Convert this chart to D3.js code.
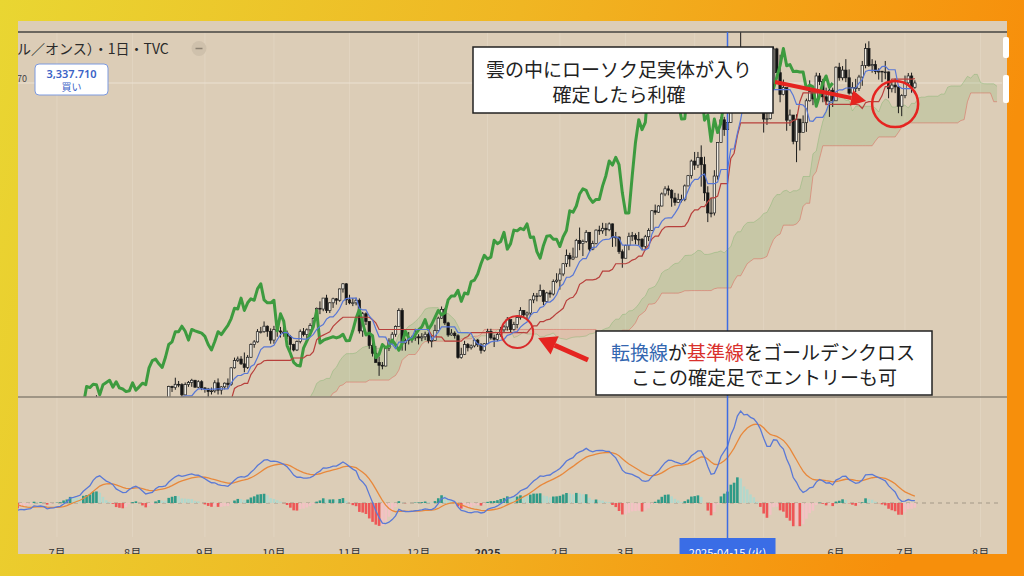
<!DOCTYPE html>
<html>
<head>
<meta charset="utf-8">
<script src="https://cdn.jsdelivr.net/npm/d3@7"></script>
<style>
  html, body { margin: 0; padding: 0; width: 1024px; height: 576px; overflow: hidden; }
  svg { display: block; font-family: "Noto Sans CJK JP", "Noto Sans", sans-serif; }
</style>
</head>
<body>
<svg id="chart" width="1024" height="576"></svg>
<script>
// ---- Daily gold bars (TVC), first session 2024-04-01 ----
const firstDay = "2024-04-01";
const lastCalendarDay = "2025-08-30";
const closedDays = ["2024-12-25", "2025-01-01", "2025-04-18"];

const closes = [
  // 2024-04
  2251,2280,2300,2290,2330, 2339,2352,2333,2373,2344, 2383,2383,2361,2379,2392, 2327,2322,2316,2332,2337, 2335,2286,
  // 2024-05
  2320,2303,2301, 2323,2314,2309,2346,2360, 2336,2358,2386,2377,2415, 2425,2421,2379,2329,2334, 2350,2361,2338,2342,2327,
  // 2024-06
  2350,2327,2355,2375,2294, 2311,2316,2324,2304,2333, 2319,2330,2328,2361,2322, 2334,2319,2298,2327,2326,
  // 2024-07
  2332,2330,2356,2356,2392, 2359,2364,2371,2415,2411, 2422,2469,2459,2445,2400, 2396,2409,2398,2365,2387, 2384,2410,2447,
  // 2024-08
  2446,2443, 2409,2390,2382,2427,2431, 2472,2465,2447,2456,2507, 2504,2513,2512,2484,2512, 2518,2524,2505,2520,2503,
  // 2024-09
  2500,2493,2495,2517,2497, 2506,2516,2512,2558,2578, 2582,2569,2559,2587,2622, 2629,2657,2657,2672,2658, 2634,
  // 2024-10
  2663,2659,2656,2653, 2644,2622,2607,2630,2657, 2649,2662,2674,2693,2721, 2719,2749,2715,2736,2747, 2743,2774,2788,2744,
  // 2024-11
  2736, 2736,2743,2659,2706,2685, 2619,2598,2573,2565,2563, 2612,2631,2650,2671,2715, 2626,2633,2637,2640,2643,
  // 2024-12
  2640,2643,2650,2632,2633, 2660,2694,2718,2681,2648, 2653,2646,2586,2595,2622, 2613,2618,2634,2621, 2606,2624,
  // 2025-01
  2658,2640, 2636,2649,2662,2670,2690, 2663,2677,2696,2715,2703, 2708,2744,2755,2755,2770, 2740,2763,2760,2794,2798,
  // 2025-02
  2815,2843,2866,2856,2861, 2907,2898,2904,2929,2883, 2898,2935,2933,2940,2936, 2952,2915,2916,2876,2858,
  // 2025-03
  2893,2918,2920,2910,2910, 2890,2917,2934,2988,2984, 3001,3034,3048,3044,3023, 3011,3019,3019,3056,3084, 3124,
  // 2025-04
  3113,3134,3114,3037, 2982,2982,3083,3175,3237, 3210,3230,3343,3327, 3424,3381,3288,3349,3319, 3343,3317,3288,
  // 2025-05
  3239,3240, 3333,3431,3366,3306,3325, 3236,3250,3178,3239,3202, 3229,3289,3314,3294,3357, 3342,3300,3288,3318,3289,
  // 2025-06
  3381,3352,3373,3352,3310, 3325,3323,3354,3386,3432, 3385,3388,3369,3370,3368, 3368,3322,3332,3327,3274, 3303,
  // 2025-07
  3338,3357,3326,3337.71
];

const highs = [
  // 2024-04
  2265,2281,2305,2305,2331, 2354,2365,2354,2378,2431, 2384,2392,2392,2385,2417, 2392,2335,2332,2345,2353, 2353,2336,
  // 2024-05
  2326,2325,2320, 2331,2330,2324,2351,2378, 2364,2362,2389,2397,2422, 2450,2426,2425,2385,2347, 2352,2364,2362,2351,2360,
  // 2024-06
  2353,2351,2358,2388,2378, 2313,2318,2341,2326,2339, 2335,2334,2338,2365,2368, 2335,2335,2321,2330,2337,
  // 2024-07
  2339,2336,2365,2364,2392, 2394,2366,2375,2424,2418, 2429,2469,2483,2462,2447, 2412,2412,2431,2400,2390, 2393,2413,2451,
  // 2024-08
  2462,2477, 2461,2420,2403,2431,2434, 2475,2477,2477,2463,2509, 2509,2531,2522,2516,2518, 2522,2528,2525,2524,2524,
  // 2024-09
  2505,2503,2504,2524,2529, 2508,2518,2529,2560,2586, 2589,2590,2600,2593,2625, 2634,2664,2670,2685,2674, 2666,
  // 2024-10
  2673,2666,2670,2670, 2660,2648,2624,2633,2663, 2667,2666,2680,2696,2723, 2740,2749,2758,2738,2750, 2749,2775,2790,2790,
  // 2024-11
  2758, 2749,2750,2748,2711,2710, 2685,2627,2618,2589,2574, 2615,2639,2656,2674,2721, 2721,2638,2656,2646,2665,
  // 2024-12
  2650,2653,2657,2655,2645, 2676,2698,2726,2722,2684, 2664,2658,2650,2613,2632, 2626,2622,2638,2637, 2626,2626,
  // 2025-01
  2665,2665, 2649,2655,2670,2675,2697, 2689,2684,2699,2724,2716, 2712,2746,2763,2763,2786, 2772,2766,2770,2800,2817,
  // 2025-02
  2830,2845,2882,2873,2887, 2911,2942,2909,2935,2929, 2906,2937,2947,2955,2954, 2956,2953,2930,2918,2882,
  // 2025-03
  2895,2928,2930,2926,2930, 2913,2922,2940,2990,3005, 3003,3038,3055,3057,3047, 3037,3035,3032,3060,3086, 3128,
  // 2025-04
  3149,3149,3167,3136, 3055,3023,3099,3176,3245, 3245,3234,3357,3358, 3430,3500,3386,3367,3371, 3353,3350,3328,
  // 2025-05
  3269,3269, 3336,3437,3434,3415,3347, 3285,3265,3250,3252,3239, 3249,3295,3345,3325,3366, 3365,3349,3325,3330,3325,
  // 2025-06
  3383,3393,3384,3403,3375, 3340,3349,3360,3398,3446, 3452,3403,3399,3378,3370, 3398,3369,3342,3350,3329, 3307,
  // 2025-07
  3358,3365,3366,3345
];

const lows = [
  // 2024-04
  2228,2243,2275,2282,2268, 2321,2331,2319,2326,2342, 2324,2365,2355,2360,2372, 2322,2291,2311,2305,2325, 2325,2285,
  // 2024-05
  2285,2294,2277, 2291,2308,2303,2305,2344, 2333,2332,2354,2371,2374, 2412,2409,2375,2326,2325, 2330,2341,2333,2322,2316,
  // 2024-06
  2314,2315,2326,2352,2286, 2286,2298,2301,2300,2302, 2312,2309,2323,2328,2316, 2316,2316,2293,2296,2319,
  // 2024-07
  2318,2319,2327,2350,2354, 2353,2352,2358,2370,2392, 2400,2421,2455,2434,2392, 2385,2385,2394,2353,2365, 2377,2380,2408,
  // 2024-08
  2431,2410, 2364,2381,2378,2380,2417, 2426,2460,2441,2431,2454, 2492,2498,2505,2470,2483, 2506,2506,2504,2502,2497,
  // 2024-09
  2490,2472,2485,2490,2485, 2485,2499,2500,2509,2556, 2574,2566,2546,2555,2585, 2613,2627,2652,2654,2643, 2624,
  // 2024-10
  2624,2643,2641,2643, 2637,2605,2603,2604,2625, 2644,2637,2656,2666,2691, 2705,2713,2708,2708,2722, 2731,2739,2764,2730,
  // 2024-11
  2732, 2727,2729,2652,2643,2675, 2610,2589,2572,2536,2554, 2562,2604,2624,2643,2670, 2605,2605,2622,2627,2632,
  // 2024-12
  2622,2631,2634,2625,2614, 2632,2657,2692,2675,2643, 2646,2638,2583,2583,2593, 2603,2608,2614,2615, 2597,2602,
  // 2025-01
  2624,2635, 2615,2631,2643,2656,2660, 2656,2660,2666,2690,2697, 2690,2699,2735,2740,2752, 2730,2737,2750,2756,2790,
  // 2025-02
  2772,2809,2834,2835,2853, 2861,2880,2864,2900,2877, 2880,2896,2922,2925,2919, 2932,2889,2890,2870,2832,
  // 2025-03
  2858,2880,2905,2896,2893, 2880,2880,2905,2933,2977, 2982,3000,3028,3030,2999, 3002,3010,3011,3014,3055, 3076,
  // 2025-04
  3100,3105,3054,3015, 2957,2970,2975,3073,3174, 3193,3205,3229,3283, 3330,3367,3260,3287,3266, 3268,3299,3268,
  // 2025-05
  3202,3223, 3238,3327,3366,3285,3304, 3207,3220,3170,3121,3153, 3205,3204,3287,3277,3287, 3332,3285,3277,3245,3272,
  // 2025-06
  3290,3344,3345,3340,3306, 3293,3313,3316,3330,3378, 3382,3366,3362,3347,3340, 3348,3296,3312,3310,3255, 3247,
  // 2025-07
  3296,3330,3311,3322
];

// Time-axis labels (first session of each month)
const monthTicks  = ["2024-07","2024-08","2024-09","2024-10","2024-11","2024-12","2025-01","2025-02","2025-03","2025-04","2025-05","2025-06","2025-07","2025-08"];
const monthLabels = ["7月","8月","9月","10月","11月","12月","2025","2月","3月","4月","5月","6月","7月","8月"];

const crossDate = "2025-04-15";
const crossLabel = "2025-04-15 (火)";
const titleText = "ル／オンス）・1日・TVC";
const buyPrice = "3,337.710";
const buyLabel = "買い";
const axisFragment = "70";

const note1 = ["雲の中にローソク足実体が入り", "確定したら利確"];
const note2a = [["転換線", "#3366b0"], ["が", "#222"], ["基準線", "#d9302c"], ["をゴールデンクロス", "#222"]];
const note2b = "ここの確定足でエントリーも可";

// ---- Ichimoku / MACD settings ----
const TENKAN = 9, KIJUN = 26, SENKOU_B = 52, DISPLACE = 26;
const FAST = 12, SLOW = 26, SIGNAL = 9;

// ---- Session calendar ----
const parse = d3.utcParse("%Y-%m-%d");
const fmt = d3.utcFormat("%Y-%m-%d");
const closedSet = new Set(closedDays);
const sessions = d3.utcDay.range(parse(firstDay), parse(lastCalendarDay))
  .filter(d => d.getUTCDay() % 6 !== 0 && !closedSet.has(fmt(d)));
const idxOf = s => sessions.findIndex(d => fmt(d) === s);
const firstOfMonth = m => sessions.findIndex(d => fmt(d).startsWith(m));

const n = closes.length;
const bars = d3.range(n).map(i => ({
  i, o: i ? closes[i - 1] : closes[0], h: highs[i], l: lows[i], c: closes[i]
}));

// ---- Layout ----
const svg = d3.select("#chart");
const defs = svg.append("defs");
const PANEL = { x: 18, y: 21, w: 989, h: 533 };
const MAIN = { top: 32, bottom: 397, left: 18, right: 1002 };
const SUB = { top: 398, bottom: 537 };

const bg = defs.append("linearGradient").attr("id", "bgGrad")
  .attr("x1", 0).attr("x2", 1).attr("y1", 0).attr("y2", 0.15);
bg.selectAll("stop").data([[0, "#e9d632"], [0.5, "#f0b623"], [1, "#f78f0b"]]).join("stop")
  .attr("offset", d => d[0]).attr("stop-color", d => d[1]);

defs.append("clipPath").attr("id", "clipPanel").append("rect")
  .attr("x", PANEL.x).attr("y", PANEL.y).attr("width", PANEL.w).attr("height", PANEL.h);
defs.append("clipPath").attr("id", "clipMain").append("rect")
  .attr("x", MAIN.left).attr("y", MAIN.top).attr("width", MAIN.right - MAIN.left).attr("height", MAIN.bottom - MAIN.top);
defs.append("clipPath").attr("id", "clipSub").append("rect")
  .attr("x", MAIN.left).attr("y", SUB.top).attr("width", MAIN.right - MAIN.left).attr("height", SUB.bottom - SUB.top);

svg.append("rect").attr("width", 1024).attr("height", 576).attr("fill", "url(#bgGrad)");
svg.append("rect").attr("x", PANEL.x).attr("y", PANEL.y).attr("width", PANEL.w).attr("height", PANEL.h).attr("fill", "#dccdb7");

// ---- Scales ----
const x = d3.scaleLinear().domain([idxOf("2024-07-01"), idxOf("2025-07-01")]).range([57, 905]);
const y = d3.scaleLinear().domain([2600, 3337.71]).range([352.5, 83]);

// ---- Indicators ----
function midpoint(i, len) {
  if (i < len - 1 || i >= n) return null;
  let hi = -Infinity, lo = Infinity;
  for (let k = i - len + 1; k <= i; k++) { hi = Math.max(hi, highs[k]); lo = Math.min(lows[k], lo); }
  return (hi + lo) / 2;
}
const tenkan = d3.range(n).map(i => ({ i, v: midpoint(i, TENKAN) }));
const kijun = d3.range(n).map(i => ({ i, v: midpoint(i, KIJUN) }));
const cloud = d3.range(n).map(i => {
  const a = (tenkan[i].v != null && kijun[i].v != null) ? (tenkan[i].v + kijun[i].v) / 2 : null;
  return { i: i + DISPLACE - 1, a, b: midpoint(i, SENKOU_B) };
});
const chikou = d3.range(n).map(i => ({ i: i - DISPLACE + 1, v: closes[i] }));

function ema(src, len) {
  const k = 2 / (len + 1);
  let prev = null;
  return src.map(v => (prev = prev == null ? v : k * v + (1 - k) * prev));
}
const emaFast = ema(closes, FAST), emaSlow = ema(closes, SLOW);
const macd = closes.map((_, i) => emaFast[i] - emaSlow[i]);
const signal = ema(macd, SIGNAL);
const hist = macd.map((m, i) => m - signal[i]);

// ---- Grid ----
const gridG = svg.append("g").attr("clip-path", "url(#clipPanel)");
gridG.selectAll("line").data(monthTicks.map(firstOfMonth)).join("line")
  .attr("x1", d => x(d)).attr("x2", d => x(d)).attr("y1", MAIN.top).attr("y2", SUB.bottom)
  .attr("stroke", "#e6dac8").attr("stroke-width", 1).attr("opacity", 0.6);

// ---- Main pane ----
const mainG = svg.append("g").attr("clip-path", "url(#clipMain)");

// last price line
mainG.append("line").attr("x1", MAIN.left).attr("x2", MAIN.right)
  .attr("y1", y(closes[n - 1])).attr("y2", y(closes[n - 1]))
  .attr("stroke", "#ebe1d2").attr("stroke-width", 1);

const cloudPts = cloud.filter(d => d.a != null && d.b != null);
mainG.append("path").datum(cloudPts)
  .attr("d", d3.area().x(d => x(d.i)).y0(d => y(d.b)).y1(d => Math.min(y(d.a), y(d.b))))
  .attr("fill", "rgba(96,165,80,0.16)");
mainG.append("path").datum(cloudPts)
  .attr("d", d3.area().x(d => x(d.i)).y0(d => y(d.b)).y1(d => Math.max(y(d.a), y(d.b))))
  .attr("fill", "rgba(236,110,100,0.14)");
mainG.append("path").datum(cloud.filter(d => d.a != null))
  .attr("d", d3.line().x(d => x(d.i)).y(d => y(d.a)))
  .attr("fill", "none").attr("stroke", "rgba(110,175,95,0.35)").attr("stroke-width", 1);
mainG.append("path").datum(cloud.filter(d => d.b != null))
  .attr("d", d3.line().x(d => x(d.i)).y(d => y(d.b)))
  .attr("fill", "none").attr("stroke", "rgba(220,100,88,0.5)").attr("stroke-width", 1);

// candles
const candleG = mainG.append("g");
candleG.selectAll("line").data(bars).join("line")
  .attr("x1", d => x(d.i)).attr("x2", d => x(d.i))
  .attr("y1", d => y(d.h)).attr("y2", d => y(d.l))
  .attr("stroke", "#1c1c1c").attr("stroke-width", 1);
candleG.selectAll("rect").data(bars).join("rect")
  .attr("x", d => x(d.i) - 1.2).attr("width", 2.4)
  .attr("y", d => y(Math.max(d.o, d.c)))
  .attr("height", d => Math.max(0.8, Math.abs(y(d.o) - y(d.c))))
  .attr("fill", d => d.c >= d.o ? "#f1ede4" : "#141414")
  .attr("stroke", "#1c1c1c").attr("stroke-width", 0.7);

const lineOf = d3.line().defined(d => d.v != null).x(d => x(d.i)).y(d => y(d.v));
mainG.append("path").datum(chikou).attr("d", lineOf)
  .attr("fill", "none").attr("stroke", "#3d9b3f").attr("stroke-width", 3).attr("stroke-linejoin", "round");
mainG.append("path").datum(kijun).attr("d", lineOf)
  .attr("fill", "none").attr("stroke", "#b8403c").attr("stroke-width", 1.2);
mainG.append("path").datum(tenkan).attr("d", lineOf)
  .attr("fill", "none").attr("stroke", "#5877d6").attr("stroke-width", 1.2);

// pane borders
svg.append("line").attr("x1", PANEL.x).attr("x2", PANEL.x + PANEL.w).attr("y1", MAIN.top).attr("y2", MAIN.top)
  .attr("stroke", "#464442").attr("stroke-width", 1.5);
svg.append("line").attr("x1", PANEL.x).attr("x2", PANEL.x + PANEL.w).attr("y1", MAIN.bottom).attr("y2", MAIN.bottom)
  .attr("stroke", "#8b8275").attr("stroke-width", 1.5);

// ---- MACD pane ----
const subG = svg.append("g").attr("clip-path", "url(#clipSub)");
const visible = d3.range(n).filter(i => x(i) >= MAIN.left && x(i) <= MAIN.right);
const macdMax = d3.max(visible, i => Math.max(macd[i], signal[i], hist[i]));
const ym = d3.scaleLinear().domain([0, macdMax]).range([503, 411]);

subG.append("line").attr("x1", MAIN.left).attr("x2", 999).attr("y1", ym(0)).attr("y2", ym(0))
  .attr("stroke", "#a39887").attr("stroke-width", 1).attr("stroke-dasharray", "4,4");

subG.selectAll("rect.h").data(d3.range(n)).join("rect").attr("class", "h")
  .attr("x", i => x(i) - 1.3).attr("width", 2.6)
  .attr("y", i => Math.min(ym(hist[i]), ym(0)))
  .attr("height", i => Math.abs(ym(hist[i]) - ym(0)))
  .attr("fill", i => {
    const h = hist[i], p = i ? hist[i - 1] : h;
    if (h >= 0) return p < h ? "#2e9a87" : "#b3d8cc";
    return p < h ? "#f3c2c4" : "#ee5656";
  });

const mLine = arr => d3.line().x((_, i) => x(i)).y(v => ym(v))(arr);
subG.append("path").attr("d", mLine(signal)).attr("fill", "none").attr("stroke", "#e8883b").attr("stroke-width", 1.3);
subG.append("path").attr("d", mLine(macd)).attr("fill", "none").attr("stroke", "#5a79d6").attr("stroke-width", 1.3);

// ---- Crosshair and time axis ----
const axisG = svg.append("g").attr("clip-path", "url(#clipPanel)");
const cx = x(idxOf(crossDate));
axisG.append("line").attr("x1", cx).attr("x2", cx).attr("y1", MAIN.top).attr("y2", 540)
  .attr("stroke", "#3e6ce2").attr("stroke-width", 1.5);

// month labels that would sit under the crosshair date tag are hidden
const shownTicks = monthTicks.map((m, i) => ({ m, label: monthLabels[i], xi: x(firstOfMonth(m)) }))
  .filter(d => Math.abs(d.xi - cx) > 58);
axisG.selectAll("text.month").data(shownTicks).join("text").attr("class", "month")
  .attr("x", d => d.xi).attr("y", 557)
  .attr("text-anchor", "middle").attr("font-size", 11)
  .attr("font-weight", d => d.label === "2025" ? 700 : 400)
  .attr("fill", "#333").text(d => d.label);

axisG.append("rect").attr("x", cx - 48).attr("y", 538).attr("width", 96).attr("height", 20)
  .attr("fill", "#3a6de6");
axisG.append("text").attr("x", cx).attr("y", 557).attr("text-anchor", "middle")
  .attr("font-size", 11).attr("fill", "#fff").text(crossLabel);

// ---- Header ----
const headG = svg.append("g").attr("clip-path", "url(#clipPanel)");
headG.append("text").attr("x", 17).attr("y", 54).attr("font-size", 14).attr("fill", "#2a2a2a").text(titleText);
headG.append("circle").attr("cx", 199).attr("cy", 48.5).attr("r", 7.5).attr("fill", "#cfc1ac");
headG.append("line").attr("x1", 195.5).attr("x2", 202.5).attr("y1", 48.5).attr("y2", 48.5)
  .attr("stroke", "#8c8273").attr("stroke-width", 1.5);
headG.append("text").attr("x", 17).attr("y", 82).attr("font-size", 9).attr("fill", "#444").text(axisFragment);
headG.append("rect").attr("x", 35).attr("y", 64).attr("width", 73).attr("height", 31).attr("rx", 4)
  .attr("fill", "#fff").attr("stroke", "#7d9adf").attr("stroke-width", 1);
headG.append("text").attr("x", 71.5).attr("y", 78).attr("text-anchor", "middle")
  .attr("font-family", "Noto Sans").attr("font-weight", 600).attr("font-size", 11).attr("fill", "#3a62c6").text(buyPrice);
headG.append("text").attr("x", 71.5).attr("y", 91).attr("text-anchor", "middle")
  .attr("font-size", 10).attr("fill", "#3a62c6").text(buyLabel);

// price-scale tabs at the right edge
svg.append("rect").attr("x", 1003).attr("y", 37).attr("width", 6).attr("height", 21).attr("rx", 2).attr("fill", "#fff");
svg.append("rect").attr("x", 1003).attr("y", 75).attr("width", 6).attr("height", 28).attr("rx", 2).attr("fill", "#fff");

// ---- Annotations ----
const RED = "#e52420";
const noteG = svg.append("g");

noteG.append("rect").attr("x", 473).attr("y", 47).attr("width", 300).attr("height", 66)
  .attr("fill", "#fff").attr("stroke", "#222").attr("stroke-width", 1.5);
noteG.selectAll("text.n1").data(note1).join("text").attr("class", "n1")
  .attr("x", 619).attr("y", (d, i) => 77 + i * 25).attr("text-anchor", "middle")
  .attr("font-size", 19).attr("fill", "#222").text(d => d);

noteG.append("rect").attr("x", 596).attr("y", 331).attr("width", 336).attr("height", 64)
  .attr("fill", "#fff").attr("stroke", "#222").attr("stroke-width", 1.5);
const t2 = noteG.append("text").attr("x", 763).attr("y", 360).attr("text-anchor", "middle").attr("font-size", 19);
t2.selectAll("tspan").data(note2a).join("tspan").attr("fill", d => d[1]).text(d => d[0]);
noteG.append("text").attr("x", 764).attr("y", 385).attr("text-anchor", "middle")
  .attr("font-size", 19).attr("fill", "#222").text(note2b);

function arrow(g, x1, y1, x2, y2, w, hl, hw) {
  const a = Math.atan2(y2 - y1, x2 - x1);
  const bx = x2 - hl * Math.cos(a), by = y2 - hl * Math.sin(a);
  g.append("line").attr("x1", x1).attr("y1", y1).attr("x2", bx).attr("y2", by)
    .attr("stroke", RED).attr("stroke-width", w);
  const px = -Math.sin(a) * hw, py = Math.cos(a) * hw;
  g.append("polygon")
    .attr("points", [[x2, y2], [bx + px, by + py], [bx - px, by - py]].map(p => p.join(",")).join(" "))
    .attr("fill", RED);
}

// exit marker: late-June candles entering the cloud
const c1 = { x: x(idxOf("2025-06-26")), y: y(3280) };
noteG.append("circle").attr("cx", c1.x).attr("cy", c1.y).attr("r", 23)
  .attr("fill", "none").attr("stroke", RED).attr("stroke-width", 2.5);
arrow(noteG, 775, 82, c1.x - 29, c1.y - 3, 4, 15, 8);

// entry marker: conversion line crossing above the base line
const c2 = { x: x(idxOf("2025-01-15")), y: y(2656) };
noteG.append("circle").attr("cx", c2.x).attr("cy", c2.y).attr("r", 16)
  .attr("fill", "none").attr("stroke", "#d82a2a").attr("stroke-width", 2);
arrow(noteG, 588, 360, c2.x + 21, c2.y + 6, 5, 18, 10);
</script>
</body>
</html>
